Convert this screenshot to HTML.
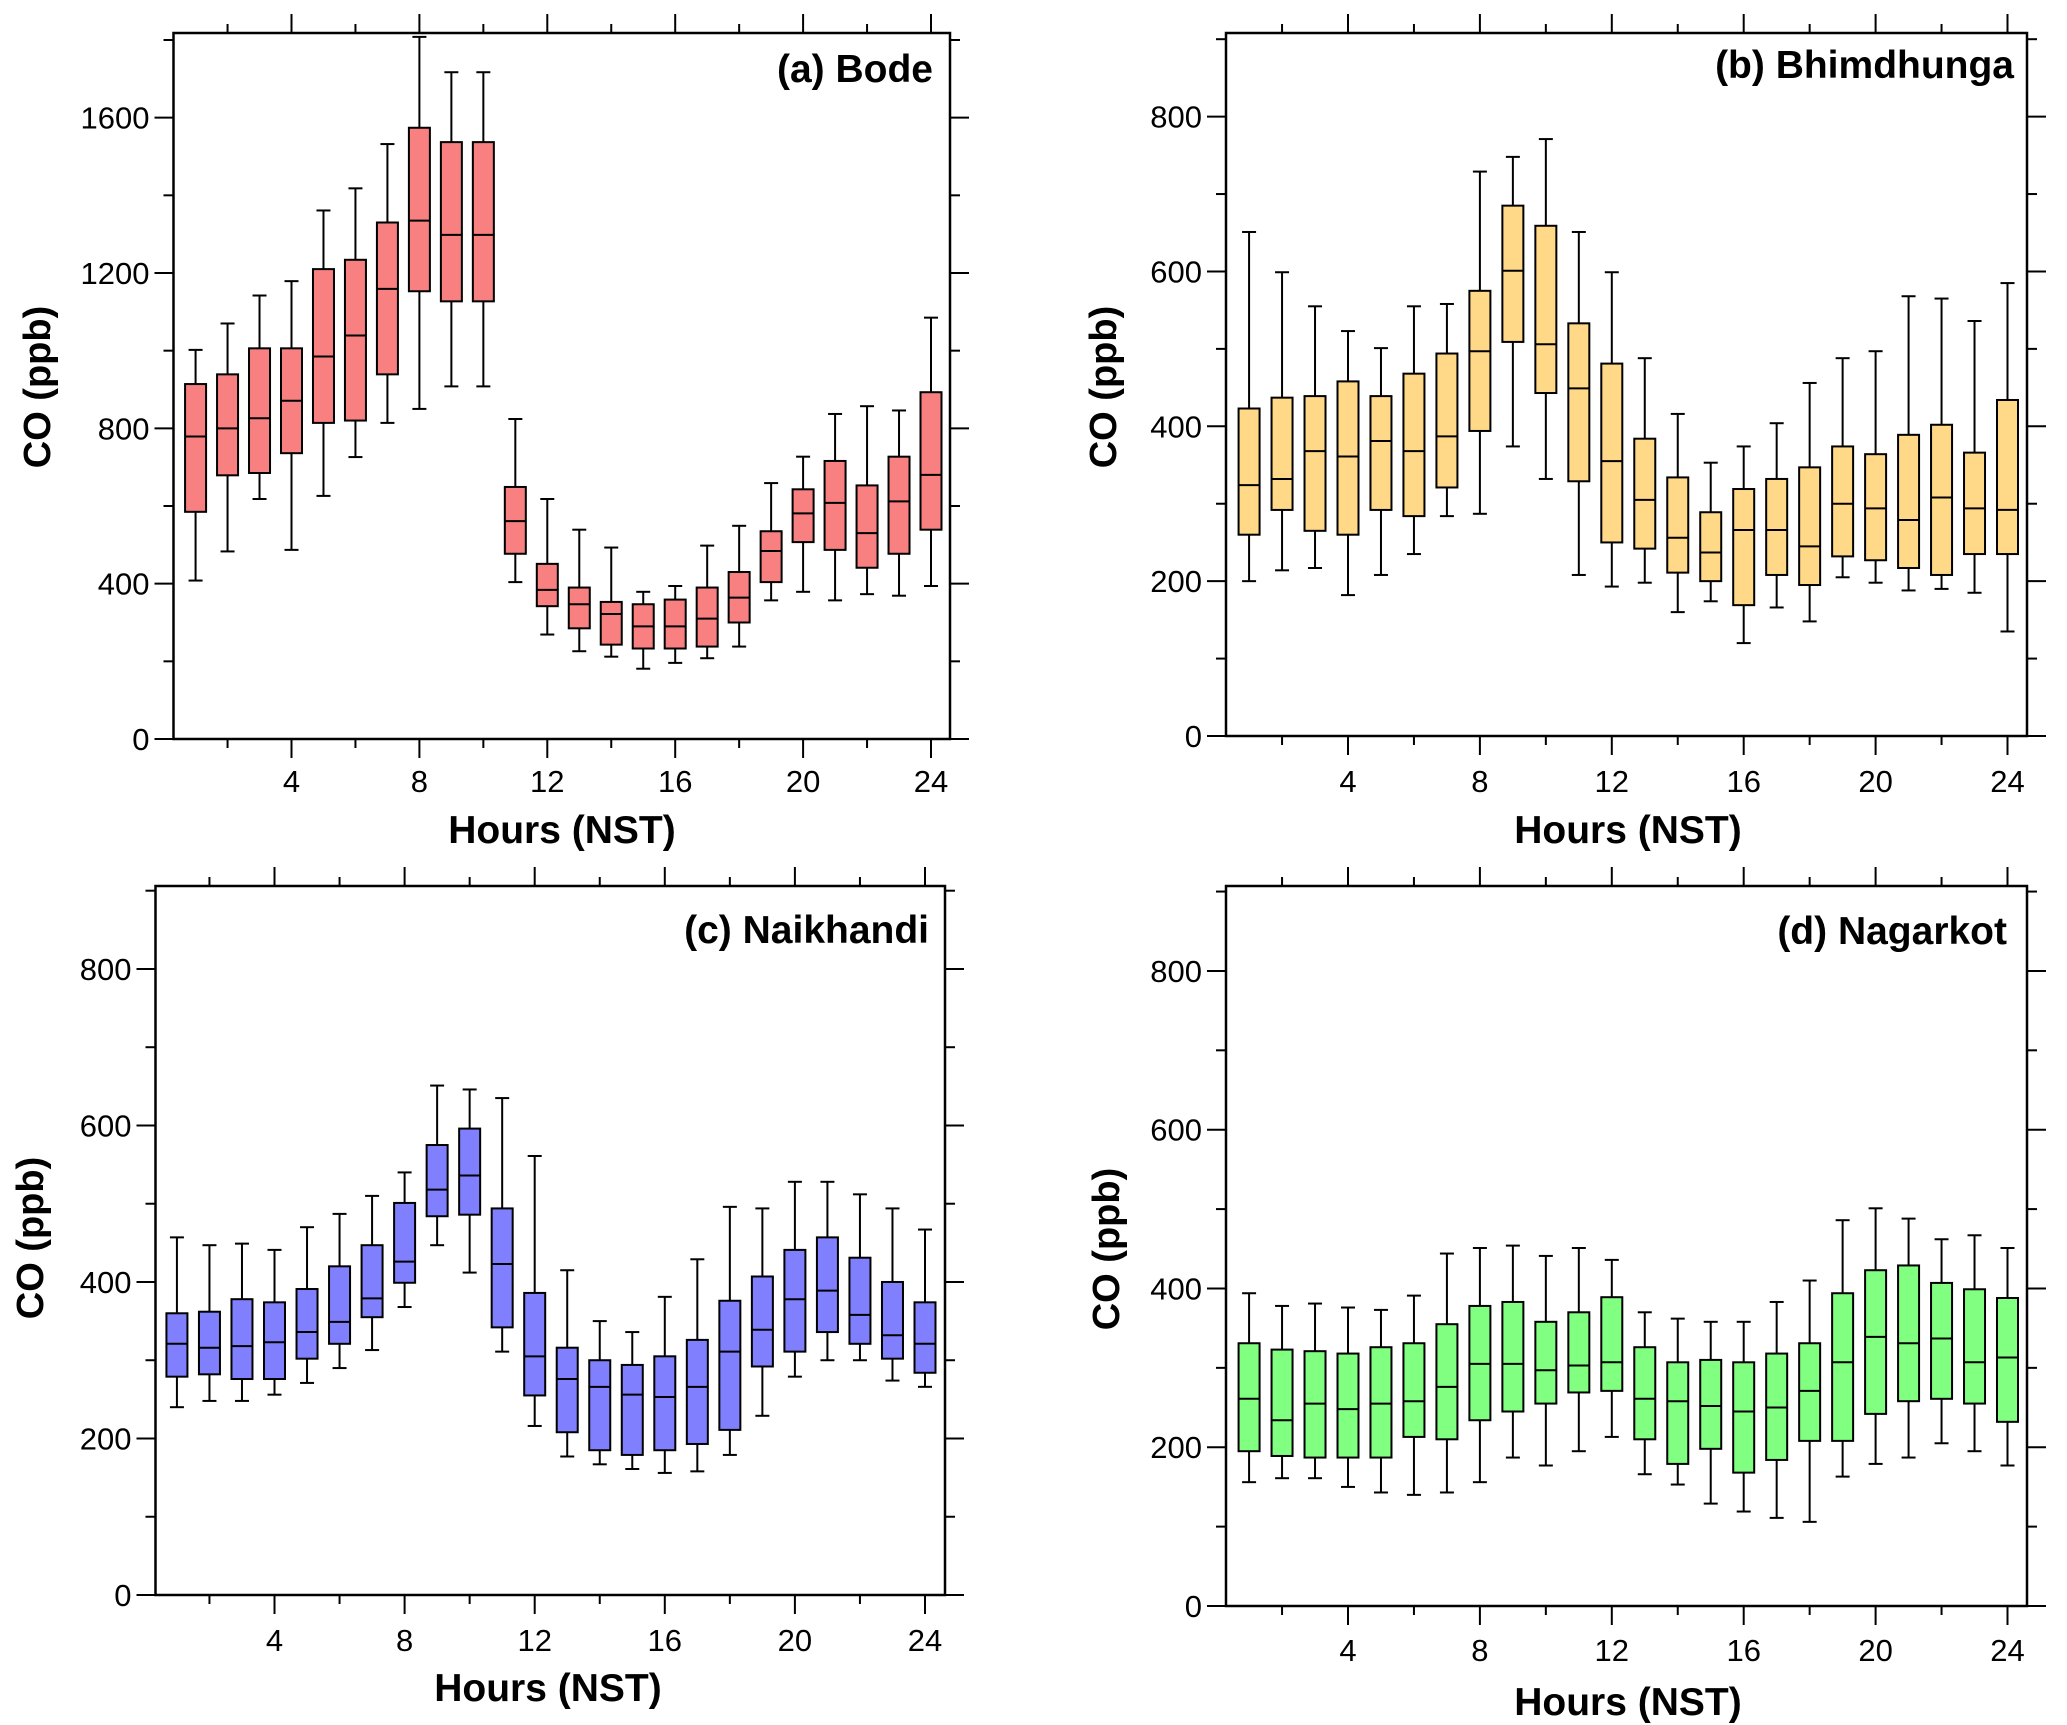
<!DOCTYPE html>
<html><head><meta charset="utf-8"><style>
html,body{margin:0;padding:0;background:#fff;}
svg{display:block;font-family:"Liberation Sans",Arial,sans-serif;}
</style></head><body>
<svg id="fig" width="2067" height="1725" viewBox="0 0 2067 1725" xmlns="http://www.w3.org/2000/svg"></svg>
<script>
// Hours 1..24
const hours = [1,2,3,4,5,6,7,8,9,10,11,12,13,14,15,16,17,18,19,20,21,22,23,24];
const xTickLabels = [4,8,12,16,20,24];
const yTicksA = [0,400,800,1200,1600];
const yTicksB = [0,200,400,600,800];
// Bode: [whiskerHigh, Q3, median, Q1, whiskerLow]
const bodeHi  = [1002,1070,1142,1179,1361,1418,1532,1808,1717,1717,824,618,539,493,379,394,498,549,659,727,837,857,846,1085];
const bodeQ3  = [914,939,1006,1006,1210,1234,1330,1574,1537,1537,649,451,390,353,347,359,390,430,535,643,716,653,727,893];
const bodeMed = [779,800,826,871,985,1039,1159,1335,1298,1298,561,384,347,322,290,290,310,364,484,581,608,530,612,680];
const bodeQ1  = [585,679,685,736,814,820,939,1153,1127,1127,477,342,285,243,233,233,238,300,404,507,487,441,477,539];
const bodeLo  = [408,483,618,487,626,726,814,850,908,908,404,269,226,212,181,196,208,238,357,379,357,373,369,394];
// Bhimdhunga
const bhimHi  = [651,599,555,523,501,555,558,729,748,771,651,599,488,416,353,374,404,456,488,497,568,565,536,585];
const bhimQ3  = [423,437,439,458,439,468,494,575,685,659,533,481,384,334,289,319,332,347,374,364,389,402,366,434];
const bhimMed = [324,332,368,361,381,368,387,497,601,506,449,355,305,256,237,266,266,245,300,294,279,308,294,292];
const bhimQ1  = [260,292,265,260,292,284,321,394,509,443,329,250,242,211,200,169,208,195,232,227,217,208,235,235];
const bhimLo  = [200,214,217,182,208,235,284,287,374,332,208,193,198,160,174,120,166,148,205,198,188,190,185,135];
// Naikhandi
const naikHi  = [457,447,449,441,470,487,510,540,651,646,635,561,415,350,336,381,429,496,494,528,528,512,494,467];
const naikQ3  = [360,362,378,374,391,420,447,501,575,596,494,386,316,300,294,305,326,376,407,441,457,431,400,374];
const naikMed = [321,316,318,323,336,349,379,426,518,536,423,305,276,266,256,253,266,311,339,378,389,358,332,321];
const naikQ1  = [279,282,276,276,302,321,355,399,484,486,342,255,208,185,179,185,193,211,292,311,336,321,302,284];
const naikLo  = [240,248,248,256,271,290,313,368,447,412,311,216,177,167,161,156,158,179,229,279,300,300,274,266];
// Nagarkot
const nagaHi  = [394,378,381,376,373,391,444,451,454,441,451,436,370,362,358,358,383,410,486,501,488,462,467,451];
const nagaQ3  = [331,323,321,318,326,331,355,378,383,358,370,389,326,307,310,307,318,331,394,423,429,407,399,388];
const nagaMed = [261,234,255,248,255,258,276,305,305,297,303,307,261,258,252,245,250,271,307,339,331,337,307,313];
const nagaQ1  = [195,189,187,187,187,213,210,234,245,255,269,271,210,179,198,168,184,208,208,242,258,261,255,232];
const nagaLo  = [156,161,161,150,143,140,143,156,187,177,195,213,166,153,129,119,111,106,163,179,187,205,195,177];

const NS="http://www.w3.org/2000/svg";
const svg=document.getElementById('fig');
function mk(tag,attrs,parent){const e=document.createElementNS(NS,tag);for(const k in attrs)e.setAttribute(k,attrs[k]);(parent||svg).appendChild(e);return e;}

const panels=[
 {id:'a',title:'(a) Bode',fill:'#f88080',hi:bodeHi,q3:bodeQ3,med:bodeMed,q1:bodeQ1,lo:bodeLo,L:173.5,R:950,T:33,B:739,ymax:1818,x4:291.5,x24:931,yt:yTicksA,minor:200,
  titleX:933,titleY:82,tickY:792,xtX:562,xtY:843,ytX:37,ytY:387},
 {id:'b',title:'(b) Bhimdhunga',fill:'#ffd888',hi:bhimHi,q3:bhimQ3,med:bhimMed,q1:bhimQ1,lo:bhimLo,L:1226,R:2027,T:33,B:736,ymax:908,x4:1348,x24:2007.5,yt:yTicksB,minor:100,
  titleX:2014,titleY:78,tickY:792,xtX:1628,xtY:843,ytX:1103,ytY:387},
 {id:'c',title:'(c) Naikhandi',fill:'#8080ff',hi:naikHi,q3:naikQ3,med:naikMed,q1:naikQ1,lo:naikLo,L:155.5,R:945,T:886,B:1595,ymax:906,x4:274.5,x24:925,yt:yTicksB,minor:100,
  titleX:929,titleY:943,tickY:1651,xtX:548,xtY:1701,ytX:30,ytY:1238},
 {id:'d',title:'(d) Nagarkot',fill:'#80ff80',hi:nagaHi,q3:nagaQ3,med:nagaMed,q1:nagaQ1,lo:nagaLo,L:1226,R:2027,T:886,B:1606,ymax:907,x4:1348,x24:2007.5,yt:yTicksB,minor:100,
  titleX:2007,titleY:944,tickY:1661,xtX:1628,xtY:1715,ytX:1106,ytY:1249}
];

panels.forEach(p=>{
  const g=mk('g',{});
  
  
  const k=(p.x24-p.x4)/20;
  const xs=h=>p.x4+(h-4)*k;
  const ys=v=>p.B-(v/p.ymax)*(p.B-p.T);
  const fr=mk('rect',{x:p.L,y:p.T,width:p.R-p.L,height:p.B-p.T,fill:'none',stroke:'#000','stroke-width':2.5},g);
  
  
  for(let h=2;h<=24;h+=2){
    const major=(h%4===0);const len=major?19:9;const x=xs(h);
    mk('line',{x1:x,y1:p.B,x2:x,y2:p.B+len,stroke:'#000','stroke-width':2},g);
    mk('line',{x1:x,y1:p.T,x2:x,y2:p.T-len,stroke:'#000','stroke-width':2},g);
  }
  xTickLabels.forEach(h=>{
    const t=mk('text',{x:xs(h),y:p.tickY,'text-anchor':'middle','font-size':31,fill:'#000'},g);
    t.textContent=h;
    
    
  });
  for(let v=0;v<=p.ymax;v+=p.minor){
    const major=p.yt.indexOf(v)>=0;const len=major?19:10;const y=ys(v);
    mk('line',{x1:p.L,y1:y,x2:p.L-len,y2:y,stroke:'#000','stroke-width':2},g);
    mk('line',{x1:p.R,y1:y,x2:p.R+len,y2:y,stroke:'#000','stroke-width':2},g);
  }
  p.yt.forEach(v=>{
    const t=mk('text',{x:p.L-24,y:ys(v)+11,'text-anchor':'end','font-size':31,fill:'#000'},g);
    t.textContent=v;
    
    
  });
  hours.forEach((h,i)=>{
    const x=xs(h),bw=21,cw=14;
    const bg=mk('g',{},g);
    
    
    mk('line',{x1:x,y1:ys(p.hi[i]),x2:x,y2:ys(p.q3[i]),stroke:'#000','stroke-width':2},bg);
    mk('line',{x1:x,y1:ys(p.q1[i]),x2:x,y2:ys(p.lo[i]),stroke:'#000','stroke-width':2},bg);
    mk('line',{x1:x-cw/2,y1:ys(p.hi[i]),x2:x+cw/2,y2:ys(p.hi[i]),stroke:'#000','stroke-width':2},bg);
    mk('line',{x1:x-cw/2,y1:ys(p.lo[i]),x2:x+cw/2,y2:ys(p.lo[i]),stroke:'#000','stroke-width':2},bg);
    mk('rect',{x:x-bw/2,y:ys(p.q3[i]),width:bw,height:ys(p.q1[i])-ys(p.q3[i]),fill:p.fill,stroke:'#000','stroke-width':2},bg);
    mk('line',{x1:x-bw/2,y1:ys(p.med[i]),x2:x+bw/2,y2:ys(p.med[i]),stroke:'#000','stroke-width':2},bg);
  });
  const tt=mk('text',{x:p.titleX,y:p.titleY,'text-anchor':'end','font-size':39,'font-weight':'bold',fill:'#000'},g);
  tt.textContent=p.title;
  
  
  const xt=mk('text',{x:p.xtX,y:p.xtY,'text-anchor':'middle','font-size':39,'font-weight':'bold',fill:'#000'},g);
  xt.textContent='Hours (NST)';
  
  
  const yt=mk('text',{x:p.ytX,y:p.ytY,'text-anchor':'middle','font-size':38,'font-weight':'bold',fill:'#000',transform:'rotate(-90 '+p.ytX+' '+p.ytY+') translate(0 13)'},g);
  yt.textContent='CO (ppb)';
  
  
});
</script>
</body></html>
